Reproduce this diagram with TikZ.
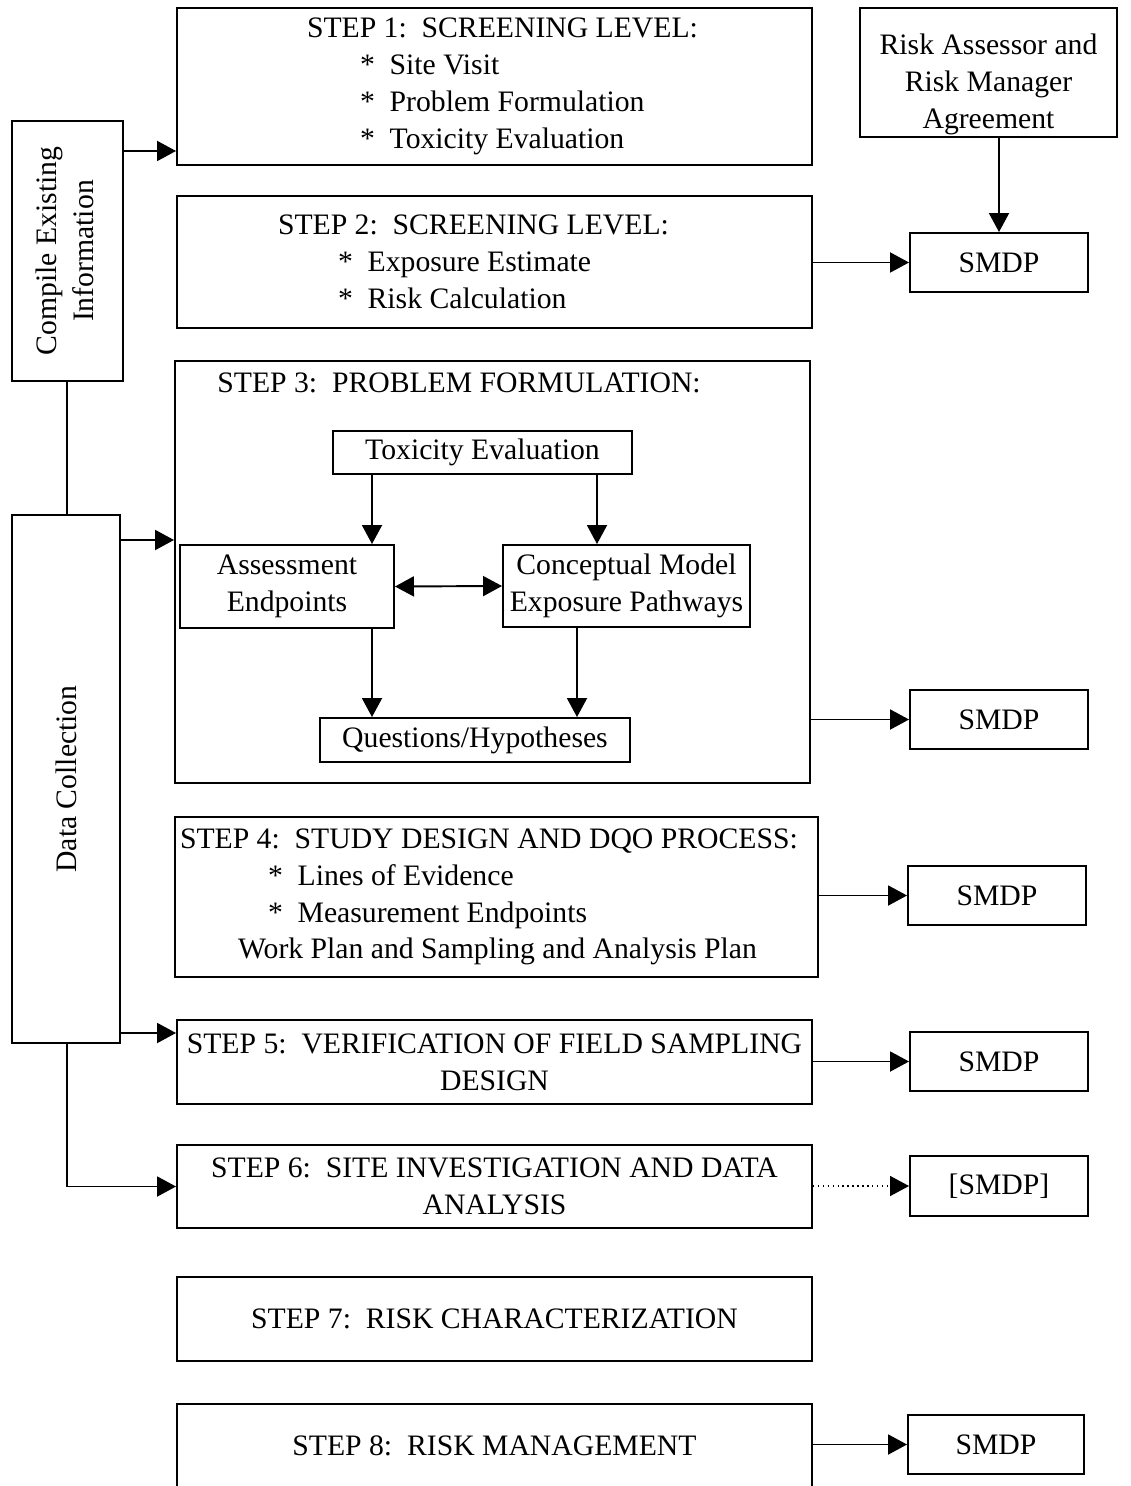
\documentclass[tikz,border=0pt]{standalone}
\usepackage{fontspec}
\setmainfont{Liberation Serif}
\usetikzlibrary{arrows.meta}
\usetikzlibrary{positioning}
\newlength{\px}
\setlength{\px}{0.02cm}
\newcommand{\normalspaces}{\spaceskip=0pt\xspaceskip=0pt}
\tikzset{
  box/.style={draw, line width=1.1pt, inner sep=0pt},
  arr/.style={line width=1.1pt, -{Triangle[length=0.38cm,width=0.4cm]}},
  darr/.style={line width=1.1pt, {Triangle[length=0.38cm,width=0.4cm]}-{Triangle[length=0.38cm,width=0.4cm]}},
}

\begin{document}
\begin{tikzpicture}[x=0.02cm, y=-0.02cm, font=\fontsize{16.9}{21}\selectfont]
\useasboundingbox (0,0) rectangle (1130,1486);

\node[box, minimum width=111\px, minimum height=260\px] (ci) at (67.5,251) {\rotatebox{90}{\begin{tabular}{@{}c@{}}Compile Existing\\Information\end{tabular}}};
\node[box, minimum width=108\px, minimum height=528\px] (dc) at (66,779) {\rotatebox{90}{Data Collection}};

\node[box, text width=635\px, minimum height=157\px, align=left] (s1) at (494.5,86.5) {\normalspaces\hspace*{130\px}STEP 1:\ \ SCREENING LEVEL:\\ \hspace*{183\px}*\ \ Site Visit\\ \hspace*{183\px}*\ \ Problem Formulation\\ \hspace*{183\px}*\ \ Toxicity Evaluation};
\node[box, text width=635\px, minimum height=132\px, align=left] (s2) at (494.5,262) {\normalspaces\hspace*{101\px}STEP 2:\ \ SCREENING LEVEL:\\ \hspace*{161\px}*\ \ Exposure Estimate\\ \hspace*{161\px}*\ \ Risk Calculation};

\node[box, minimum width=635\px, minimum height=422\px] (s3) at (492.5,572) {};
\node[anchor=west, inner sep=0pt] (s3t) at (217,383) {STEP 3:\ \ PROBLEM FORMULATION:};
\node[box, minimum width=299\px, minimum height=43\px] (te) at (482.5,452.5) {Toxicity Evaluation};
\node[box, minimum width=214\px, minimum height=83\px, align=center] (ae) at (287,586.5) {Assessment\\Endpoints};
\node[box, minimum width=247\px, minimum height=82\px, align=center] (cm) at (626.5,586) {Conceptual Model\\Exposure Pathways};
\node[box, minimum width=310\px, minimum height=44\px] (qh) at (475,740) {Questions/Hypotheses};

\node[box, text width=643\px, minimum height=160\px, align=left] (s4) at (496.5,897) {\normalspaces\hspace*{5\px}STEP 4:\ \ STUDY DESIGN AND DQO PROCESS:\\ \hspace*{93\px}*\ \ Lines of Evidence\\ \hspace*{93\px}*\ \ Measurement Endpoints\\ \hspace*{63\px}Work Plan and Sampling and Analysis Plan};
\node[box, minimum width=635\px, minimum height=84\px, align=center] (s5) at (494.5,1062) {STEP 5:\ \ VERIFICATION OF FIELD SAMPLING\\DESIGN};
\node[box, minimum width=635\px, minimum height=83\px, align=center] (s6) at (494.5,1186.5) {STEP 6:\ \ SITE INVESTIGATION AND DATA\\ANALYSIS};
\node[box, minimum width=635\px, minimum height=84\px] (s7) at (494.5,1319) {STEP 7:\ \ RISK CHARACTERIZATION};
\node[box, minimum width=635\px, minimum height=84\px] (s8) at (494.5,1446) {STEP 8:\ \ RISK MANAGEMENT};

\node[box, minimum width=257\px, minimum height=129\px, align=center] (ra) at (988.5,72.5) {\rule{0pt}{25pt}Risk Assessor and\\Risk Manager\\Agreement};
\node[box, minimum width=178\px, minimum height=59\px] (m2) at (999,262.5) {SMDP};
\node[box, minimum width=178\px, minimum height=59\px] (m3) at (999,719.5) {SMDP};
\node[box, minimum width=178\px, minimum height=59\px] (m4) at (997,895.5) {SMDP};
\node[box, minimum width=178\px, minimum height=59\px] (m5) at (999,1061.5) {SMDP};
\node[box, minimum width=178\px, minimum height=60\px] (m6) at (999,1186) {[SMDP]};
\node[box, minimum width=176\px, minimum height=59\px] (m8) at (996,1444.5) {SMDP};

\draw[arr] (ci.east |- 0,151) -- (s1.west |- 0,151);
\draw[line width=1.1pt] (ci.south -| 67,0) -- (dc.north -| 67,0);
\draw[arr] (dc.east |- 0,540) -- (s3.west |- 0,540);
\draw[arr] (dc.east |- 0,1033) -- (s5.west |- 0,1033);
\draw[arr] (dc.south -| 67,0) |- (s6.west);

\draw[arr] (te.south -| 372,0) -- (ae.north -| 372,0);
\draw[arr] (te.south -| 597,0) -- (cm.north -| 597,0);
\draw[darr] (ae.east) -- (cm.west);
\draw[arr] (ae.south -| 372,0) -- (qh.north -| 372,0);
\draw[arr] (cm.south -| 577,0) -- (qh.north -| 577,0);

\draw[arr] (ra.south -| m2.north) -- (m2.north);
\draw[arr] (s2.east |- m2.west) -- (m2.west);
\draw[arr] (s3.east |- m3.west) -- (m3.west);
\draw[arr] (s4.east |- m4.west) -- (m4.west);
\draw[arr] (s5.east |- m5.west) -- (m5.west);
\draw[arr, line width=0.8pt, dotted] (s6.east |- m6.west) -- (m6.west);
\draw[arr] (s8.east |- m8.west) -- (m8.west);
\end{tikzpicture}
\end{document}
